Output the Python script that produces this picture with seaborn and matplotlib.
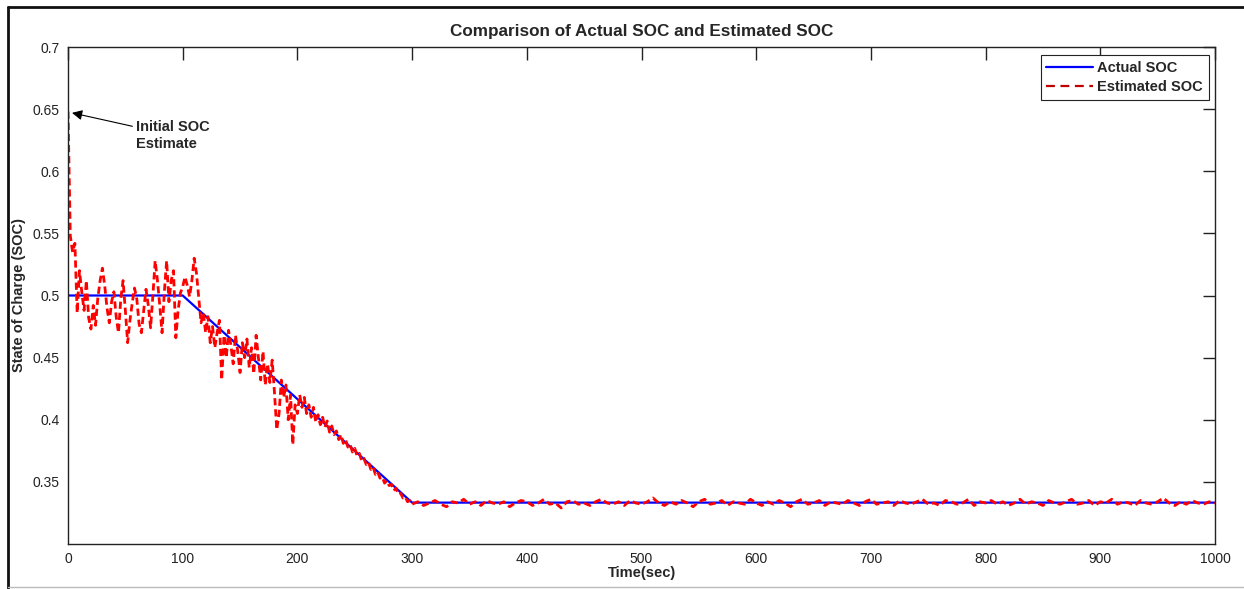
import numpy as np
import pandas as pd
import matplotlib
matplotlib.use("Agg")
import matplotlib.pyplot as plt
from matplotlib.lines import Line2D
import seaborn as sns

# ---- data ----
actual_time = [0, 100, 300, 1000]
actual_soc = [0.5, 0.5, 0.3333, 0.3333]

# estimated SOC, 0..298 s every 2 s
est_time_a = list(range(0, 300, 2))
est_soc_a = [
    0.648, 0.548, 0.535, 0.542, 0.486, 0.520, 0.503, 0.488, 0.512, 0.482,
    0.473, 0.492, 0.476, 0.498, 0.512, 0.522, 0.508, 0.490, 0.478, 0.495,
    0.503, 0.483, 0.470, 0.497, 0.512, 0.488, 0.462, 0.480, 0.494, 0.506,
    0.497, 0.477, 0.470, 0.488, 0.505, 0.492, 0.474, 0.500, 0.528, 0.512,
    0.492, 0.470, 0.503, 0.528, 0.495, 0.512, 0.520, 0.466, 0.488, 0.502,
    0.507, 0.515, 0.508, 0.499, 0.512, 0.530, 0.518, 0.498, 0.478, 0.486,
    0.470, 0.483, 0.462, 0.475, 0.458, 0.470, 0.480, 0.432, 0.468, 0.450,
    0.472, 0.460, 0.445, 0.468, 0.455, 0.438, 0.462, 0.450, 0.465, 0.442,
    0.458, 0.437, 0.468, 0.450, 0.432, 0.455, 0.428, 0.445, 0.430, 0.448,
    0.422, 0.392, 0.405, 0.432, 0.418, 0.428, 0.400, 0.420, 0.380, 0.412,
    0.405, 0.420, 0.410, 0.418, 0.405, 0.412, 0.402, 0.410, 0.398, 0.404,
    0.396, 0.402, 0.394, 0.399, 0.390, 0.395, 0.388, 0.391, 0.384, 0.388,
    0.381, 0.384, 0.378, 0.380, 0.374, 0.377, 0.371, 0.373, 0.367, 0.369,
    0.364, 0.366, 0.360, 0.362, 0.356, 0.358, 0.353, 0.354, 0.349, 0.351,
    0.347, 0.348, 0.343, 0.345, 0.340, 0.341, 0.337, 0.338, 0.334, 0.335,
]

# estimated SOC, 300..1000 s every 5 s
est_time_b = list(range(300, 1001, 5))
est_soc_b = [
    0.332, 0.334, 0.331, 0.333, 0.335, 0.332, 0.330, 0.334, 0.333, 0.336,
    0.332, 0.334, 0.331, 0.335, 0.333, 0.332, 0.334, 0.330, 0.333, 0.335,
    0.334, 0.331, 0.333, 0.336, 0.332, 0.333, 0.329, 0.334, 0.335, 0.332,
    0.333, 0.331, 0.334, 0.336, 0.333, 0.332, 0.334, 0.331, 0.335, 0.333,
    0.332, 0.334, 0.337, 0.333, 0.331, 0.334, 0.332, 0.335, 0.333, 0.330,
    0.334, 0.336, 0.332, 0.333, 0.335, 0.331, 0.334, 0.333, 0.332, 0.336,
    0.333, 0.331, 0.334, 0.332, 0.335, 0.333, 0.330, 0.334, 0.336, 0.332,
    0.333, 0.335, 0.331, 0.334, 0.333, 0.332, 0.335, 0.333, 0.331, 0.334,
    0.336, 0.332, 0.333, 0.334, 0.331, 0.335, 0.333, 0.332, 0.334, 0.336,
    0.332, 0.333, 0.331, 0.335, 0.334, 0.332, 0.333, 0.336, 0.331, 0.334,
    0.333, 0.335, 0.332, 0.334, 0.331, 0.333, 0.336, 0.332, 0.334, 0.333,
    0.331, 0.335, 0.333, 0.332, 0.334, 0.336, 0.332, 0.333, 0.335, 0.331,
    0.334, 0.333, 0.336, 0.332, 0.334, 0.333, 0.331, 0.335, 0.333, 0.332,
    0.334, 0.337, 0.333, 0.331, 0.334, 0.332, 0.335, 0.333, 0.332, 0.334,
    0.333,
]

x_ticks = [0, 100, 200, 300, 400, 500, 600, 700, 800, 900, 1000]
y_ticks = [0.35, 0.4, 0.45, 0.5, 0.55, 0.6, 0.65, 0.7]
y_tick_labels = ["0.35", "0.4", "0.45", "0.5", "0.55", "0.6", "0.65", "0.7"]

df_act = pd.DataFrame({"t": actual_time, "soc": actual_soc})
df_est = pd.DataFrame({"t": est_time_a + est_time_b, "soc": est_soc_a + est_soc_b})

# ---- style ----
sns.set_theme(style="white")
plt.rcParams["font.family"] = ["Liberation Sans", "DejaVu Sans"]

fig = plt.figure(figsize=(12.44, 5.89), dpi=100)
ax = fig.add_axes([68 / 1244, 1 - 544 / 589, (1215 - 68) / 1244, (544 - 47) / 589])

sns.lineplot(data=df_act, x="t", y="soc", ax=ax, color="#0000FF", lw=1.6,
             sort=False, estimator=None, label="Actual SOC")
sns.lineplot(data=df_est, x="t", y="soc", ax=ax, color="#FF0000", lw=2.0,
             linestyle="--", dashes=False, sort=False, estimator=None,
             label="Estimated SOC")
ax.lines[-1].set_dashes([2.6, 1.4])

ax.set_xlim(0, 1000)
ax.set_ylim(0.3, 0.7)
ax.set_xticks(x_ticks)
ax.set_xticklabels([str(v) for v in x_ticks])
ax.set_yticks(y_ticks)
ax.set_yticklabels(y_tick_labels)
ax.tick_params(direction="in", length=9, width=1, top=True, right=True,
               labelsize=10, colors="#222222", pad=6)
for s in ax.spines.values():
    s.set_color("#222222")
    s.set_linewidth(1.0)

ax.set_xlabel("Time(sec)", fontsize=10.5, fontweight="bold", labelpad=0)
ax.set_ylabel("State of Charge (SOC)", fontsize=10.5, fontweight="bold", labelpad=5)
ax.set_title("Comparison of Actual SOC and Estimated SOC", fontsize=12.3,
             fontweight="bold", pad=8)

ax.annotate("Initial SOC\nEstimate", xy=(3.5, 0.647), xytext=(59, 0.629),
            fontsize=10.5, fontweight="bold", ha="left", va="center",
            linespacing=1.3,
            arrowprops=dict(arrowstyle="-|>", color="black", lw=0.8,
                            mutation_scale=15, shrinkA=0, shrinkB=0))

handles = [Line2D([], [], color="#0000FF", lw=1.6),
           Line2D([], [], color="#C00000", lw=1.6, linestyle=(0, (4, 2.5)))]
leg = ax.legend(handles, ["Actual SOC", "Estimated SOC"], loc="upper right",
                bbox_to_anchor=(0.9948, 0.984), fancybox=False, framealpha=1,
                edgecolor="#222222", prop={"weight": "bold", "size": 10.5},
                handlelength=3.2, handletextpad=0.3, borderpad=0.4,
                labelspacing=0.35, borderaxespad=0)
leg.get_frame().set_linewidth(0.8)

# outer frame
fig.add_artist(Line2D([8 / 1244, 8 / 1244], [1 / 589, 1 - 7 / 589], color="#111111",
                      lw=2, transform=fig.transFigure))
fig.add_artist(Line2D([8 / 1244, 1.0], [1 - 7 / 589, 1 - 7 / 589], color="#111111",
                      lw=2, transform=fig.transFigure))
fig.add_artist(Line2D([8 / 1244, 1.0], [2 / 589, 2 / 589], color="#bbbbbb",
                      lw=1, transform=fig.transFigure))

fig.savefig("out.png", dpi=100)
